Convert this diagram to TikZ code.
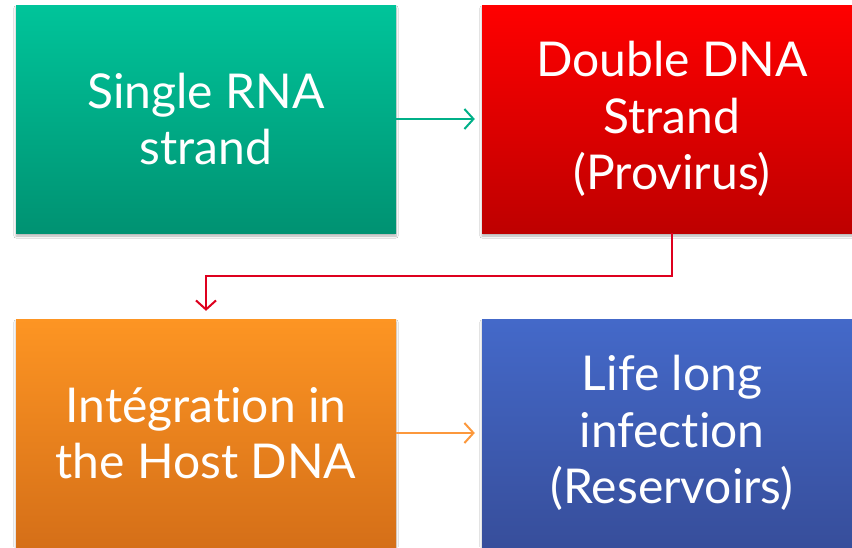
\documentclass[tikz,border=0pt]{standalone}
\usepackage{fontspec}
\setmainfont[Ligatures=NoCommon]{Lato}
\usetikzlibrary{arrows.meta,shadows.blur,calc}
\definecolor{tealT}{RGB}{0,196,154}
\definecolor{tealB}{RGB}{0,146,114}
\definecolor{redT}{RGB}{255,0,0}
\definecolor{redB}{RGB}{190,0,0}
\definecolor{oraT}{RGB}{253,149,35}
\definecolor{oraB}{RGB}{213,111,24}
\definecolor{bluT}{RGB}{68,105,201}
\definecolor{bluB}{RGB}{55,78,155}
\definecolor{tealL}{RGB}{0,176,136}
\definecolor{redL}{RGB}{222,0,30}
\definecolor{oraL}{RGB}{252,152,60}
\tikzset{
  box/.style={minimum width=380pt, minimum height=228pt, inner sep=0pt,
    text=white, align=center, font=\fontsize{48}{56.5}\selectfont,
    blur shadow={shadow xshift=0pt, shadow yshift=-3pt, shadow blur steps=6, shadow opacity=30}},
  conn/.style={line width=2pt, -{Straight Barb[length=9pt,width=20pt,line width=2pt]}}
}
\begin{document}
\begin{tikzpicture}[x=1pt,y=-1pt]
\clip (0,0) rectangle (852,547);
\fill[white] (0,0) rectangle (852,547);
\node[box, top color=tealT, bottom color=tealB] (b1) at (206,119) {Single RNA\\strand};
\node[box, top color=redT, bottom color=redB] (b2) at (672,119) {Double DNA\\Strand\\(Provirus)};
\node[box, top color=oraT, bottom color=oraB] (b3) at (206,433) {Intégration in\\the Host DNA};
\node[box, top color=bluT, bottom color=bluB] (b4) at (672,433) {Life long\\infection\\(Reservoirs)};
\coordinate (mid) at (440,276);
\draw[conn, tealL, shorten >=7pt] (b1.east) -- (b2.west);
\draw[conn, redL, shorten >=8pt] (b2.south) |- (mid) -| (b3.north);
\draw[conn, oraL, shorten >=7pt] (b3.east) -- (b4.west);
\end{tikzpicture}
\end{document}
